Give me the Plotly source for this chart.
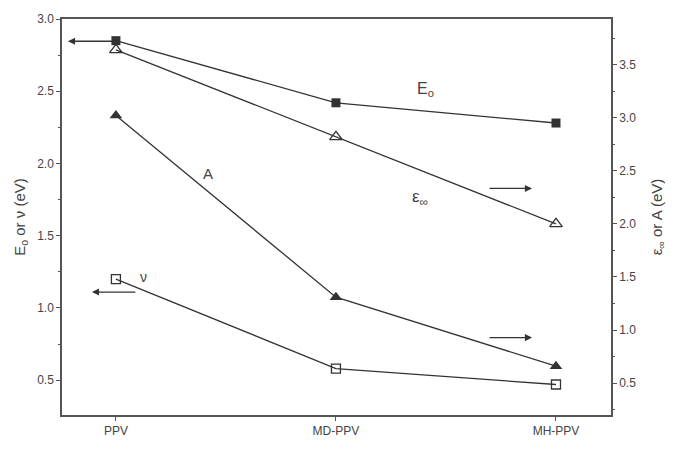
import plotly.graph_objects as go

categories = ["PPV", "MD-PPV", "MH-PPV"]
x_pos = [0, 1, 2]
E0 = [2.85, 2.42, 2.28]          # left axis
nu = [1.20, 0.58, 0.47]          # left axis
eps_inf = [3.64, 2.82, 2.00]     # right axis
A_vals = [3.02, 1.31, 0.66]      # right axis

line_c = "#333333"
axis_c = "#555555"
text_c = "#444444"
FONT = "Liberation Sans, Arial, sans-serif"

fig = go.Figure()
fig.add_trace(go.Scatter(x=x_pos, y=E0, mode="lines+markers", yaxis="y",
                         line=dict(color=line_c, width=1.3),
                         marker=dict(symbol="square", size=9, color=line_c)))
fig.add_trace(go.Scatter(x=x_pos, y=nu, mode="lines+markers", yaxis="y",
                         line=dict(color=line_c, width=1.3),
                         marker=dict(symbol="square-open", size=9, color=line_c, line=dict(width=1.3))))
fig.add_trace(go.Scatter(x=x_pos, y=eps_inf, mode="lines+markers", yaxis="y2",
                         line=dict(color=line_c, width=1.3),
                         marker=dict(symbol="triangle-up-open", size=11, color=line_c, line=dict(width=1.3))))
fig.add_trace(go.Scatter(x=x_pos, y=A_vals, mode="lines+markers", yaxis="y2",
                         line=dict(color=line_c, width=1.3),
                         marker=dict(symbol="triangle-up", size=11, color=line_c)))

ann = []
def label(x, y, txt, size=15):
    ann.append(dict(x=x, y=y, xref="x", yref="y", text=txt, showarrow=False,
                    font=dict(family=FONT, size=size, color=text_c)))
def arrow(x0, x1, y):
    ann.append(dict(x=x1, y=y, ax=x0, ay=y, xref="x", yref="y", axref="x", ayref="y",
                    text="", showarrow=True, arrowhead=2, arrowsize=1.1, arrowwidth=1.3,
                    arrowcolor=line_c))

label(1.405, 2.51, "E<sub>o</sub>", size=16)
label(1.382, 1.76, "ε<sub>∞</sub>", size=17)
label(0.418, 1.93, "A", size=15)
label(0.125, 1.215, "ν", size=14)
arrow(0.009, -0.218, 2.846)
arrow(0.095, -0.109, 1.11)
arrow(1.691, 1.891, 1.827)
arrow(1.691, 1.891, 0.795)

fig.update_layout(
    width=687, height=450,
    margin=dict(l=62, r=76, t=15, b=26),
    plot_bgcolor="white", paper_bgcolor="white",
    showlegend=False,
    font=dict(family=FONT, size=12, color=text_c),
    annotations=ann,
    xaxis=dict(range=[-0.245, 2.25], tickvals=x_pos, ticktext=categories,
               showgrid=False, zeroline=False, showline=True, linecolor=axis_c,
               linewidth=1.5, mirror=True, ticks="outside", ticklen=4,
               tickcolor=axis_c, tickfont=dict(size=12, color=text_c)),
    yaxis=dict(range=[0.259, 3.0], dtick=0.5, tick0=0.5, tickformat=".1f",
               showgrid=False, zeroline=False, showline=True, linecolor=axis_c,
               linewidth=1.5, ticks="outside", ticklen=4, tickcolor=axis_c,
               minor=dict(ticks="outside", dtick=0.25, ticklen=2, tickcolor=axis_c),
               title=dict(text="E<sub>o</sub> or ν (eV)", font=dict(size=15, color=text_c), standoff=8),
               tickfont=dict(size=12, color=text_c)),
    yaxis2=dict(range=[0.2, 3.93], dtick=0.5, tick0=0.5, tickformat=".1f",
                overlaying="y", side="right",
                showgrid=False, zeroline=False, showline=True, linecolor=axis_c,
                linewidth=1.5, ticks="outside", ticklen=4, tickcolor=axis_c,
                minor=dict(ticks="outside", dtick=0.25, ticklen=2, tickcolor=axis_c),
                title=dict(text="ε<sub>∞</sub> or A (eV)", font=dict(size=15, color=text_c), standoff=16),
                tickfont=dict(size=12, color=text_c)),
)

fig.write_html("out.html")
